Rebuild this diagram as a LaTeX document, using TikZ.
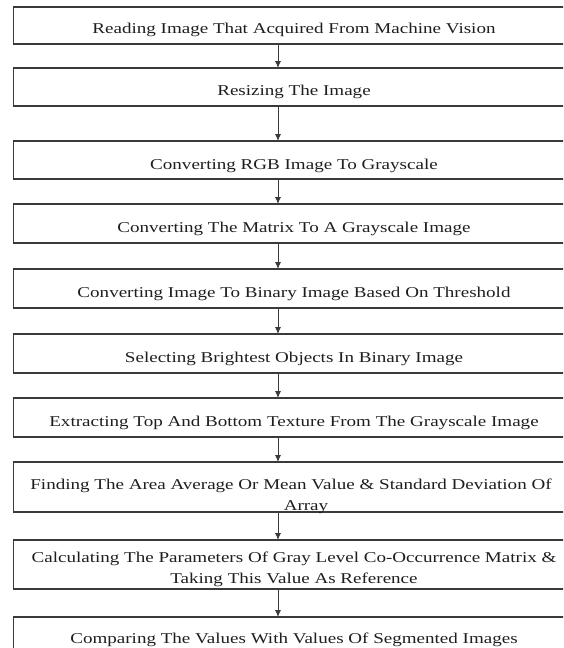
\documentclass[tikz,border=0pt]{standalone}
\usepackage{fontspec}
\setmainfont[FakeStretch=1.27]{Liberation Serif}
\usetikzlibrary{arrows.meta}
\definecolor{boxgray}{HTML}{3A3A3A}
\definecolor{txt}{HTML}{1E1E1E}
\begin{document}
\begin{tikzpicture}[x=1pt,y=-1pt,
  box/.style={draw=boxgray,line width=1.1pt,minimum width=562pt,anchor=north west,inner sep=0pt,outer sep=0pt},
  lbl/.style={font=\fontsize{15}{21.5}\selectfont,anchor=base,inner sep=0pt,text=txt},
  arr/.style={draw=boxgray,line width=0.9pt,-{Latex[length=7pt,width=6pt]}}]
\useasboundingbox (0,0) rectangle (563,648);
\clip (0,0) rectangle (563,648);
\coordinate (ax) at (278,0);
\node[box,minimum height=37pt] (b1) at (13.3,7) {};
\node[box,minimum height=38pt] (b2) at (13.3,68) {};
\node[box,minimum height=38pt] (b3) at (13.3,141) {};
\node[box,minimum height=39pt] (b4) at (13.3,204) {};
\node[box,minimum height=39pt] (b5) at (13.3,269) {};
\node[box,minimum height=39pt] (b6) at (13.3,334) {};
\node[box,minimum height=39pt] (b7) at (13.3,398) {};
\node[box,minimum height=50pt] (b8) at (13.3,462) {};
\node[box,minimum height=49pt] (b9) at (13.3,540) {};
\node[box,minimum height=50pt] (b10) at (13.3,617) {};
\node[lbl] (t1) at (294,33.5) {Reading Image That Acquired From Machine Vision};
\node[lbl] (t2) at (294,95) {Resizing The Image};
\node[lbl] (t3) at (294,169) {Converting RGB Image To Grayscale};
\node[lbl] (t4) at (294,232) {Converting The Matrix To A Grayscale Image};
\node[lbl] (t5) at (294,297) {Converting Image To Binary Image Based On Threshold};
\node[lbl] (t6) at (294,362) {Selecting Brightest Objects In Binary Image};
\node[lbl] (t7) at (294,426) {Extracting Top And Bottom Texture From The Grayscale Image};
\node[lbl] (t8a) at (291,489) {Finding The Area Average Or Mean Value \& Standard Deviation Of};
\node[lbl] (t8b) at (306,510.5) {Array};
\node[lbl] (t9a) at (294,562) {Calculating The Parameters Of Gray Level Co-Occurrence Matrix \&};
\node[lbl] (t9b) at (294,583) {Taking This Value As Reference};
\node[lbl] (t10) at (294,643) {Comparing The Values With Values Of Segmented Images};
\foreach \a/\b in {b1/b2,b2/b3,b3/b4,b4/b5,b5/b6,b6/b7,b7/b8,b8/b9,b9/b10}
  \draw[arr] (\a.south -| ax) -- (\b.north -| ax);
\end{tikzpicture}
\end{document}
